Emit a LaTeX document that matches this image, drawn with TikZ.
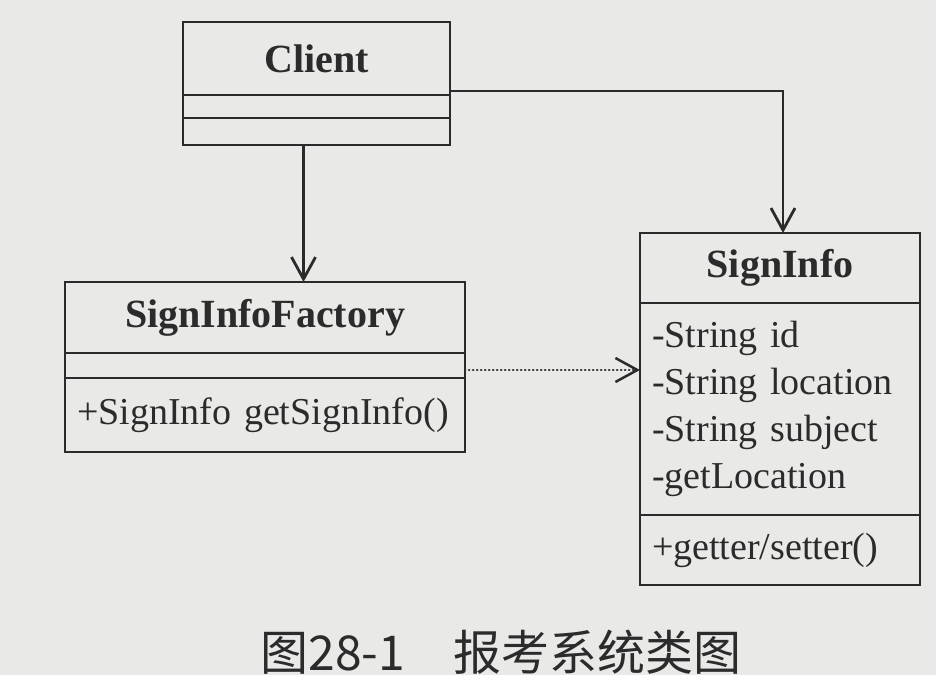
\documentclass[tikz,border=0pt]{standalone}
\usepackage{fontspec}
\setmainfont{Liberation Serif}
\newfontfamily\cjkfont{Noto Sans CJK SC}
\usetikzlibrary{positioning,arrows.meta}
\definecolor{ink}{HTML}{2B2B2B}
\definecolor{paper}{HTML}{E9E9E7}

\begin{document}
\begin{tikzpicture}[x=1pt, y=-1pt,
    part/.style={draw=ink, text=ink, line width=2.8pt, outer sep=0pt, inner xsep=12pt, inner ysep=0pt,
                 font=\fontsize{38}{47}\selectfont},
    namepart/.style={part, font=\fontsize{40}{47}\selectfont\bfseries},
    listpart/.style={part, align=left, text width=#1},
    assoc/.style={draw=ink, line width=2.8pt, -{Straight Barb[length=22pt,width=24pt]}},
    depend/.style={assoc, line width=2.5pt, line cap=round, dash pattern=on 0.3pt off 3.7pt}]
    \fill[paper] (0,0) rectangle (936,675);
    \useasboundingbox (0,0) rectangle (936,675);

    % Client
    \node[namepart, minimum width=267pt, minimum height=73pt, anchor=north] (client name) at (316.5,22) {Client};
    \node[part, minimum width=267pt, minimum height=23pt, below=0pt of client name] (client attr) {};
    \node[part, minimum width=267pt, minimum height=27pt, below=0pt of client attr] (client ops) {};

    % SignInfoFactory
    \node[namepart, minimum width=400pt, minimum height=71pt, anchor=north] (factory name) at (265,282) {SignInfoFactory};
    \node[part, minimum width=400pt, minimum height=25pt, below=0pt of factory name] (factory attr) {};
    \node[listpart=376pt, minimum height=74pt, below=0pt of factory attr] (factory ops) {+SignInfo getSignInfo()};

    % SignInfo
    \node[namepart, minimum width=280pt, minimum height=70pt, anchor=north] (info name) at (780,233) {SignInfo};
    \node[listpart=256pt, minimum height=212pt, below=0pt of info name] (info attr)
        {-String id\\-String location\\-String subject\\-getLocation};
    \node[listpart=256pt, minimum height=70pt, below=0pt of info attr] (info ops) {+getter/setter()};

    \draw[assoc] ([xshift=-13pt]client ops.south) -- ([xshift=-13pt]client ops.south |- factory name.north);
    \draw[assoc] ([yshift=4pt]client attr.north east) -| ([xshift=3pt]info name.north);
    \draw[depend] ([yshift=-4.5pt]factory attr.east) -- ([yshift=-4.5pt]factory attr.east -| info attr.west);

    \node[text=ink, font=\cjkfont\fontsize{48}{56}\selectfont] (caption) at (501,652) {图28-1\quad 报考系统类图};
\end{tikzpicture}
\end{document}
